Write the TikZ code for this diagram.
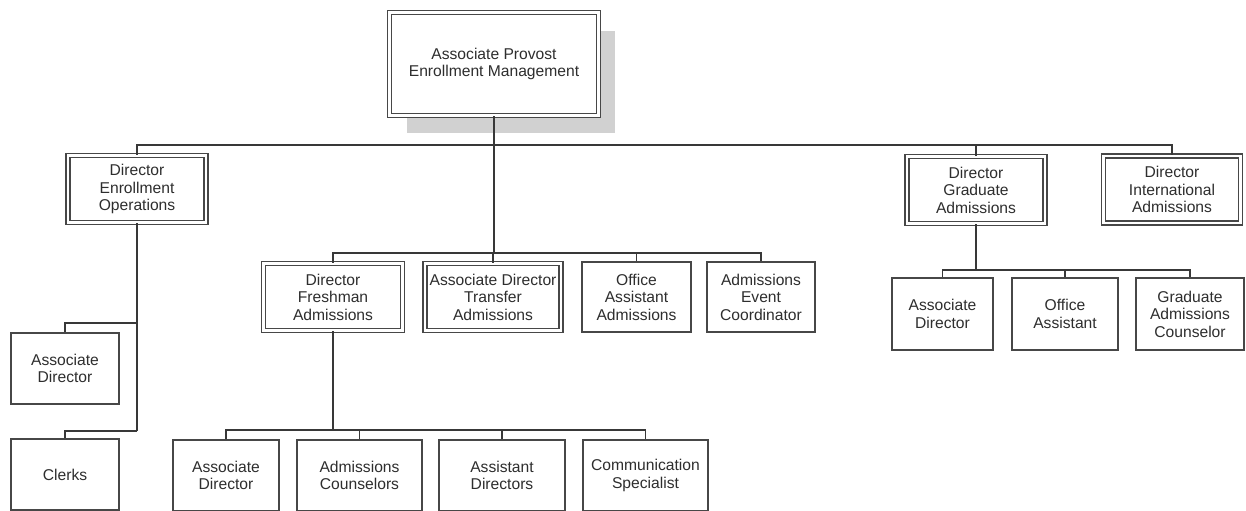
\documentclass[tikz,border=0pt]{standalone}
\usepackage{fontspec}
\setmainfont{Liberation Sans}
\usetikzlibrary{shadows}
\tikzset{
  unit/.style={draw=black!72, line width=0.7pt, fill=white, align=center,
    inner sep=0pt, minimum height=1.42cm, text=black!82,
    font=\fontsize{8.9}{10}\selectfont},
  head/.style={unit, line width=0.85pt, double=white, double distance=1.3pt,
    minimum height=1.34cm},
  link/.style={draw=black!78, line width=0.85pt},
}
\begin{document}
\begin{tikzpicture}[x=0.02cm, y=-0.02cm]
  \useasboundingbox (0,0) rectangle (1246,510);
  \node[head, minimum width=4.18cm, minimum height=2.06cm,
    drop shadow={shadow xshift=0.34cm, shadow yshift=-0.36cm,
      fill=black!18, opacity=1}] (prov) at (494,64)
    {Associate Provost\\Enrollment Management};
  \node[head, minimum width=2.76cm] (opsdir) at (137,189) {Director\\Enrollment\\Operations};
  \node[head, minimum width=2.76cm] (gradir) at (976,190) {Director\\Graduate\\Admissions};
  \node[head, minimum width=2.74cm] (intdir) at (1172,189.5) {Director\\International\\Admissions};
  \node[head, minimum width=2.78cm] (fresh) at (333,297) {Director\\Freshman\\Admissions};
  \node[head, minimum width=2.72cm] (transfer) at (493,297) {Associate Director\\Transfer\\Admissions};
  \node[unit, minimum width=2.18cm, minimum height=1.4cm] (office) at (636.5,297) {Office\\Assistant\\Admissions};
  \node[unit, minimum width=2.16cm, minimum height=1.4cm] (event) at (761,297) {Admissions\\Event\\Coordinator};
  \node[unit, minimum width=2.16cm] (opsassoc) at (65,368.5) {Associate\\Director};
  \node[unit, minimum width=2.16cm] (clerks) at (65,474.5) {Clerks};
  \node[unit, minimum width=2.12cm] (fassoc) at (226,475.5) {Associate\\Director};
  \node[unit, minimum width=2.5cm] (counselors) at (359.5,475.5) {Admissions\\Counselors};
  \node[unit, minimum width=2.52cm] (assistdir) at (502,475.5) {Assistant\\Directors};
  \node[unit, minimum width=2.5cm] (comm) at (645.5,475.5) {Communication\\Specialist};
  \node[unit, minimum width=2.02cm, minimum height=1.44cm] (gassoc) at (942.5,314) {Associate\\Director};
  \node[unit, minimum width=2.12cm, minimum height=1.44cm] (goffice) at (1065,314) {Office\\Assistant};
  \node[unit, minimum width=2.16cm, minimum height=1.44cm] (gcouns) at (1190,314) {Graduate\\Admissions\\Counselor};
  \coordinate (bus) at (494,145);
  \coordinate (midbus) at (494,253);
  \coordinate (opsbus) at (137,323);
  \coordinate (clerkbus) at (137,431);
  \coordinate (fbus) at (333,430);
  \coordinate (gbus) at (976,270);
  \begin{scope}[link]
    \draw (prov) to (midbus);
    \draw (opsdir.north) |- (bus) -| (intdir.north);
    \draw (gradir.north) to (gradir.north |- bus);
    \draw (fresh.north) |- (midbus) -| (event.north);
    \draw (transfer.north) to (transfer.north |- midbus);
    \draw (office.north) to (office.north |- midbus);
    \draw (opsdir.south) to (clerkbus);
    \draw (opsbus) -| (opsassoc.north);
    \draw (clerkbus) -| (clerks.north);
    \draw (fresh.south) to (fbus);
    \draw (fassoc.north) |- (fbus) -| (comm.north);
    \draw (counselors.north) to (counselors.north |- fbus);
    \draw (assistdir.north) to (assistdir.north |- fbus);
    \draw (gradir.south) to (gbus);
    \draw (gassoc.north) |- (gbus) -| (gcouns.north);
    \draw (goffice.north) to (goffice.north |- gbus);
  \end{scope}
\end{tikzpicture}
\end{document}
